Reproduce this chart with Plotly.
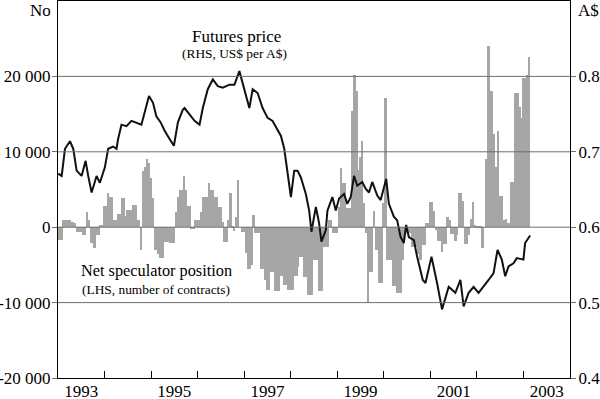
import numpy as np
import plotly.graph_objects as go

# ---------------- data ----------------
# Net speculator position (LHS), semi-monthly observations from January 1993, thousands of contracts
position_start_year = 1993.0
position_obs_per_year = 24
position_thousands = [
    -1.7, -1.7, -1.7, 1.0, 1.0, 1.0, 1.0, 0.7, 0.7, 0.5,
    -0.6, -0.6, -0.6, -1.1, -1.1, 2.0, 1.0, -2.1, -2.1, -2.8,
    -1.0, -1.0, 0.3, 0.3, 2.8, 2.8, 4.5, 4.0, 4.0, 1.0,
    1.0, 1.8, 1.8, 3.9, 3.9, 1.5, 2.3, 2.3, 2.3, 3.0,
    3.0, 1.0, 1.0, -3.0, 7.5, 8.0, 9.0, 8.5, 6.5, 3.9,
    -3.0, -3.0, -3.5, -4.1, -4.1, -2.0, -2.0, -2.0, -2.1, -2.1,
    -2.1, 2.0, 4.0, 5.0, 5.0, 6.8, 5.0, 2.8, 2.8, -0.2,
    -0.2, 1.0, 1.0, 1.0, 2.0, 4.0, 4.0, 4.0, 5.8, 5.0,
    5.0, 4.0, 4.0, 2.7, 2.7, 0.7, -1.9, -1.9, 1.0, 4.5,
    0.2, -0.5, 1.4, 6.3, 0.0, -0.6, -0.6, -3.4, -5.6, -5.6,
    -5.0, 1.6, -0.8, -0.8, -0.8, -5.5, -5.5, -7.0, -8.3, -8.3,
    -6.0, -6.0, -8.5, -8.5, -8.5, -6.5, -6.5, -7.7, -7.7, -8.3,
    -8.3, -8.3, -6.5, -6.5, -5.3, -4.0, -4.0, -6.6, -6.6, -9.0,
    -9.0, -9.0, -4.3, -4.3, -4.3, -8.4, -8.4, -2.6, -2.6, -2.6,
    1.0, 1.0, -0.8, -0.8, -0.8, 2.7, 7.9, 5.8, 5.8, 2.5,
    2.5, 2.5, 15.4, 20.2, 18.0, 7.6, 9.3, 11.4, 3.2, -0.8,
    -10.0, -6.0, -6.0, 2.1, -3.0, -3.0, -7.4, -7.4, 3.2, 17.1,
    -4.3, -4.3, -4.3, -7.8, -7.8, -8.7, -8.7, -8.7, -4.3, -0.8,
    -0.8, -0.8, -0.8, -2.6, -2.6, -2.6, -3.5, -4.3, -2.4, -2.4,
    0.6, 0.6, 3.3, 3.3, 2.2, -0.4, -1.8, -1.8, -3.3, -2.2,
    -2.2, 1.3, 0.9, -0.9, -0.9, -1.8, -1.1, 4.6, 4.6, 3.5,
    -2.2, -2.2, -1.1, 1.1, 3.3, 0.3, 0.1, 0.1, 0.1, -2.8,
    0.0, 9.0, 24.0, 18.0, 18.0, 12.3, 8.0, 12.8, 4.2, 4.2,
    0.9, 1.1, 0.6, 0.6, 6.0, 6.0, 17.8, 17.8, 16.0, 14.5,
    19.8, 19.8, 20.2, 22.6,
]

# Futures price (RHS, US$ per A$)
price_year = [
    1993.006, 1993.079, 1993.150, 1993.257, 1993.328, 1993.400, 1993.507, 1993.593, 1993.649, 1993.722,
    1993.829, 1993.899, 1994.006, 1994.077, 1994.184, 1994.257, 1994.291, 1994.364, 1994.471, 1994.578,
    1994.792, 1994.863, 1994.955, 1995.041, 1995.113, 1995.206, 1995.291, 1995.398, 1995.490, 1995.576,
    1995.683, 1995.719, 1995.827, 1995.934, 1996.041, 1996.111, 1996.218, 1996.326, 1996.433, 1996.540,
    1996.683, 1996.790, 1996.897, 1997.004, 1997.111, 1997.182, 1997.289, 1997.396, 1997.503, 1997.610,
    1997.717, 1997.790, 1997.861, 1997.931, 1998.004, 1998.075, 1998.146, 1998.218, 1998.325, 1998.396,
    1998.445, 1998.540, 1998.610, 1998.660, 1998.754, 1998.788, 1998.895, 1998.968, 1999.039, 1999.146,
    1999.216, 1999.289, 1999.360, 1999.430, 1999.537, 1999.610, 1999.681, 1999.752, 1999.859, 1999.932,
    2000.002, 2000.051, 2000.109, 2000.216, 2000.287, 2000.360, 2000.430, 2000.480, 2000.537, 2000.645,
    2000.715, 2000.788, 2000.837, 2000.895, 2001.024, 2001.144, 2001.251, 2001.394, 2001.537, 2001.645,
    2001.715, 2001.822, 2001.929, 2002.036, 2002.143, 2002.251, 2002.358, 2002.443, 2002.535, 2002.608,
    2002.679, 2002.786, 2002.857, 2002.999, 2003.036, 2003.107, 2003.143,
]
price_usd = [
    0.671, 0.668, 0.704, 0.714, 0.704, 0.675, 0.668, 0.688, 0.668, 0.646,
    0.668, 0.659, 0.679, 0.704, 0.707, 0.704, 0.717, 0.736, 0.734, 0.741,
    0.736, 0.754, 0.774, 0.765, 0.747, 0.739, 0.728, 0.717, 0.708, 0.739,
    0.756, 0.758, 0.750, 0.741, 0.736, 0.758, 0.783, 0.796, 0.787, 0.785,
    0.789, 0.789, 0.807, 0.783, 0.758, 0.783, 0.778, 0.758, 0.745, 0.741,
    0.730, 0.721, 0.704, 0.671, 0.640, 0.675, 0.675, 0.666, 0.644, 0.622,
    0.594, 0.627, 0.605, 0.581, 0.596, 0.622, 0.640, 0.622, 0.638, 0.644,
    0.631, 0.640, 0.668, 0.655, 0.660, 0.651, 0.646, 0.660, 0.642, 0.636,
    0.655, 0.664, 0.631, 0.614, 0.609, 0.587, 0.579, 0.603, 0.587, 0.583,
    0.561, 0.543, 0.530, 0.526, 0.561, 0.526, 0.491, 0.521, 0.513, 0.530,
    0.495, 0.513, 0.521, 0.513, 0.521, 0.530, 0.539, 0.570, 0.557, 0.535,
    0.548, 0.552, 0.559, 0.557, 0.579, 0.587, 0.589,
]

left_tickvals = [-20000, -10000, 0, 10000, 20000]
left_ticktext = ["-20 000", "-10 000", "0", "10 000", "20 000"]
right_tickvals = [0.4, 0.5, 0.6, 0.7, 0.8]
right_ticktext = ["0.4", "0.5", "0.6", "0.7", "0.8"]
year_labels = [1993, 1995, 1997, 1999, 2001, 2003]
year_boundaries = list(range(1994, 2004))

# ---------------- figure ----------------
FONT = "Liberation Serif"
GRID = "#6e6e6e"
BAR = "#a6a6a6"

position = np.array(position_thousands) * 1000
position_x = position_start_year + np.arange(len(position)) / position_obs_per_year

fig = go.Figure()
fig.add_trace(go.Bar(
    x=position_x, y=position, width=1.0 / position_obs_per_year,
    marker=dict(color=BAR, line=dict(width=0)), yaxis="y", showlegend=False,
))
fig.add_trace(go.Scatter(
    x=price_year, y=price_usd, mode="lines",
    line=dict(color="#111111", width=2), yaxis="y2", showlegend=False,
))

shapes = []
for v in [-10000, 0, 10000, 20000]:
    shapes.append(dict(type="line", xref="paper", x0=0, x1=1, yref="y", y0=v, y1=v,
                       line=dict(color=GRID, width=1), layer="above"))

def ann(text, x, y, size, xanchor="center", xshift=0, yshift=0, yanchor="middle"):
    return dict(text=text, x=x, y=y, xref="paper", yref="paper", showarrow=False,
                xanchor=xanchor, yanchor=yanchor, xshift=xshift, yshift=yshift,
                font=dict(family=FONT, size=size, color="black"))

annotations = [
    ann("Futures price", 0.348, 0.907, 17),
    ann("(RHS, US$ per A$)", 0.344, 0.862, 13.4),
    ann("Net speculator position", 0.193, 0.286, 16.3),
    ann("(LHS, number of contracts)", 0.191, 0.236, 13.4),
    ann("No", 0, 1, 17, xanchor="right", xshift=-5, yshift=2, yanchor="top"),
    ann("A$", 1, 1, 17, xanchor="left", xshift=6, yshift=2, yanchor="top"),
]

fig.update_layout(
    width=600, height=399,
    margin=dict(l=58, r=30, t=1, b=21, autoexpand=False),
    paper_bgcolor="white", plot_bgcolor="white",
    bargap=0,
    font=dict(family=FONT, size=17, color="black"),
    xaxis=dict(
        range=[1993, 2004], showgrid=False, zeroline=False, automargin=False,
        tickmode="array", tickvals=[y + 0.5 for y in year_labels],
        ticktext=[str(y) for y in year_labels],
        ticks="outside", ticklen=1, tickcolor="rgba(0,0,0,0)", ticklabelstandoff=-3,
        minor=dict(tickmode="array", tickvals=year_boundaries, ticks="inside",
                   ticklen=7, tickcolor="black", tickwidth=1, showgrid=False),
        showline=True, linecolor="black", linewidth=1, mirror=True,
        tickfont=dict(family=FONT, size=17),
    ),
    yaxis=dict(
        range=[-20000, 30000], showgrid=False, zeroline=False, automargin=False,
        tickmode="array", tickvals=left_tickvals, ticktext=left_ticktext,
        ticks="outside", ticklen=5, tickcolor=GRID, ticklabelstandoff=-2,
        showline=True, linecolor="black", linewidth=1, mirror=True,
        tickfont=dict(family=FONT, size=17),
    ),
    yaxis2=dict(
        range=[0.4, 0.9], overlaying="y", side="right", showgrid=False, zeroline=False,
        automargin=False,
        tickmode="array", tickvals=right_tickvals, ticktext=right_ticktext,
        ticks="outside", ticklen=5, tickcolor=GRID, ticklabelstandoff=-1,
        showline=False, tickfont=dict(family=FONT, size=17),
    ),
    shapes=shapes,
    annotations=annotations,
)

fig.write_html("out.html", config={"displayModeBar": False},
               post_script="document.body.style.margin='0';")
